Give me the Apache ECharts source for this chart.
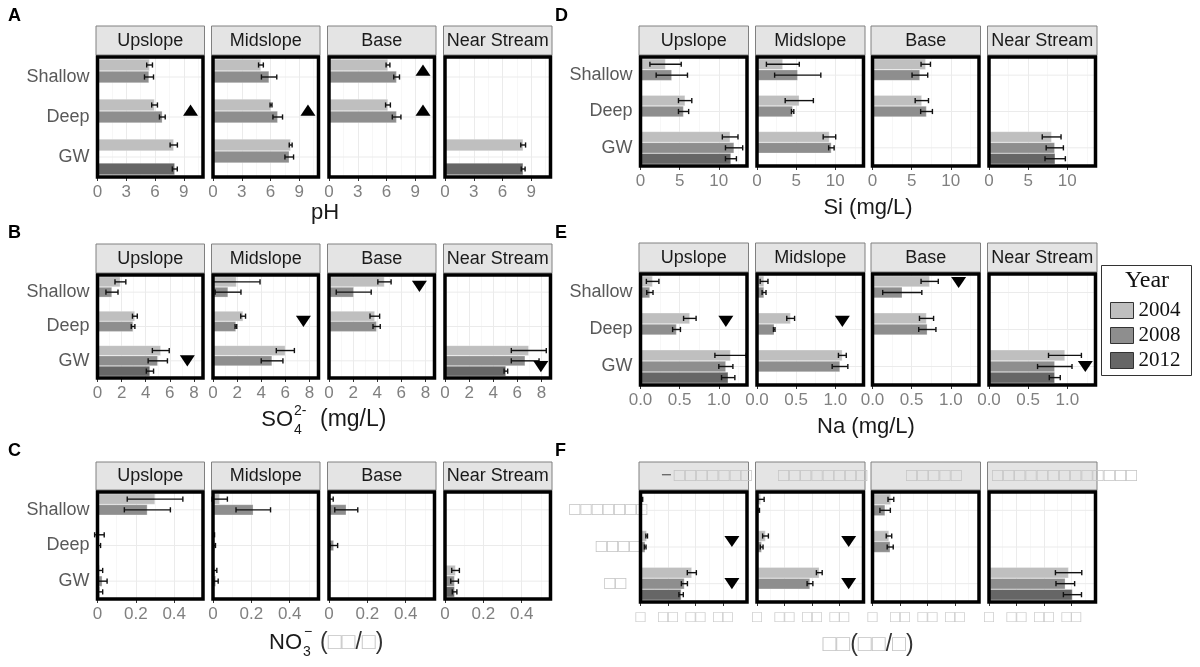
<!DOCTYPE html>
<html><head><meta charset="utf-8">
<script src="https://cdn.jsdelivr.net/npm/echarts@6/dist/echarts.min.js"></script>
<style>html,body{margin:0;padding:0;background:#fff}#c{width:1200px;height:667px}</style>
</head><body><div id="c"></div>
<script>
const N = null;
const FACETS = ['Upslope', 'Midslope', 'Base', 'Near Stream'];
const DEPTHS = ['Shallow', 'Deep', 'GW'];
const YEARS = ['2004', '2008', '2012'];

// values: [facet][depth][year]; marks: [facet, depth position, x, direction (1 up, -1 down)]
const pHMean = [
  [[5.43, 5.37, N], [5.95, 6.76, N], [7.95, N, 8.06]],
  [[5.0, 5.85, N], [6.05, 6.75, N], [8.1, 7.95, N]],
  [[6.15, 7.05, N], [6.15, 7.05, N], [N, N, N]],
  [[N, N, N], [N, N, N], [8.15, N, 8.15]]
];
const pHErr = [
  [[0.3, 0.47, N], [0.3, 0.3, N], [0.38, N, 0.26]],
  [[0.25, 0.8, N], [0.1, 0.5, N], [0.15, 0.45, N]],
  [[0.2, 0.3, N], [0.25, 0.45, N], [N, N, N]],
  [[N, N, N], [N, N, N], [0.25, N, 0.2]]
];
const pHMarks = [[0, 0.83, 9.7, 1], [1, 0.83, 9.9, 1], [2, -0.17, 9.8, 1], [2, 0.83, 9.8, 1]];
const pHTicks = [0, 3, 6, 9];

const so4Mean = [
  [[1.9, 1.2, N], [3.1, 2.95, N], [5.25, 5.0, 4.35]],
  [[1.95, 1.25, N], [2.5, 1.9, N], [6.0, 4.9, N]],
  [[4.6, 2.05, N], [3.8, 3.95, N], [N, N, N]],
  [[N, N, N], [N, N, N], [6.95, 6.65, 5.05]]
];
const so4Err = [
  [[0.45, 0.5, N], [0.2, 0.15, N], [0.7, 0.8, 0.3]],
  [[1.95, 1.07, N], [0.2, 0.07, N], [0.75, 0.9, N]],
  [[0.55, 1.45, N], [0.4, 0.3, N], [N, N, N]],
  [[N, N, N], [N, N, N], [1.45, 1.15, 0.15]]
];
const so4Marks = [[0, 2.0, 7.45, -1], [1, 0.85, 7.5, -1], [2, -0.17, 7.5, -1], [3, 2.17, 7.95, -1]];
const so4Ticks = [0, 2, 4, 6, 8];

const no3Mean = [
  [[0.30, 0.26, N], [0.01, 0.006, N], [0.012, 0.025, 0.012]],
  [[0.035, 0.21, N], [0.004, 0.008, N], [0.01, 0.015, N]],
  [[0.01, 0.09, N], [N, 0.025, N], [N, N, N]],
  [[N, N, N], [N, N, N], [0.055, 0.05, 0.05]]
];
const no3Err = [
  [[0.145, 0.12, N], [0.025, 0.01, N], [0.015, 0.025, 0.015]],
  [[0.04, 0.09, N], [0.004, 0.005, N], [0.01, 0.012, N]],
  [[0.012, 0.06, N], [N, 0.02, N], [N, N, N]],
  [[N, N, N], [N, N, N], [0.02, 0.02, 0.012]]
];
const no3Marks = [];
const no3Ticks = [0, 0.2, 0.4];

const siMean = [
  [[3.2, 4.0, N], [5.7, 5.5, N], [11.45, 11.95, 11.55]],
  [[3.3, 5.2, N], [5.4, 4.55, N], [9.25, 9.5, N]],
  [[6.8, 6.05, N], [6.3, 6.9, N], [N, N, N]],
  [[N, N, N], [N, N, N], [8.0, 8.4, 8.45]]
];
const siErr = [
  [[2.0, 2.0, N], [0.85, 0.65, N], [1.0, 1.1, 0.7]],
  [[2.1, 2.95, N], [1.8, 0.15, N], [0.8, 0.35, N]],
  [[0.6, 1.0, N], [0.85, 0.75, N], [N, N, N]],
  [[N, N, N], [N, N, N], [1.2, 1.1, 1.3]]
];
const siMarks = [];
const siTicks = [0, 5, 10];

const naMean = [
  [[0.155, 0.12, N], [0.63, 0.46, N], [1.15, 1.09, 1.12]],
  [[0.09, 0.09, N], [0.43, 0.22, N], [1.09, 1.06, N]],
  [[0.73, 0.38, N], [0.69, 0.7, N], [N, N, N]],
  [[N, N, N], [N, N, N], [0.97, 0.84, 0.84]]
];
const naErr = [
  [[0.08, 0.04, N], [0.08, 0.05, N], [0.2, 0.09, 0.085]],
  [[0.05, 0.025, N], [0.05, 0.01, N], [0.05, 0.1, N]],
  [[0.11, 0.25, N], [0.09, 0.11, N], [N, N, N]],
  [[N, N, N], [N, N, N], [0.21, 0.22, 0.07]]
];
const naMarks = [[0, 0.78, 1.09, -1], [1, 0.78, 1.09, -1], [2, -0.27, 1.1, -1], [3, 2.0, 1.23, -1]];
const naTicks = [0, 0.5, 1.0];

const fMean = [
  [[0.5, N, N], [2.25, 1.72, N], [18.7, 16.0, 14.8]],
  [[1.4, 0.6, N], [3.1, 1.7, N], [22.7, 19.3, N]],
  [[6.7, 4.6, N], [6.0, 6.45, N], [N, N, N]],
  [[N, N, N], [N, N, N], [29.0, 27.8, 30.4]]
];
const fErr = [
  [[0.3, N, N], [0.3, 0.3, N], [1.65, 1.1, 0.8]],
  [[1.2, 0.3, N], [1.05, 0.5, N], [1.05, 1.05, N]],
  [[1.05, 1.9, N], [1.0, 1.1, N], [N, N, N]],
  [[N, N, N], [N, N, N], [4.8, 3.4, 3.3]]
];
const fMarks = [[0, 0.85, 33.3, -1], [0, 2.0, 33.3, -1], [1, 0.85, 33.4, -1], [1, 2.0, 33.4, -1]];
const fTicks = [0, 10, 20, 30];
const fTickLabels = ['□', '□□', '□□', '□□'];
const fStripLabels = ['{d|−}{t|□□□□□□□}', '{t|□□□□□□□□}', '{t|□□□□□}', '{t|□□□□□□□□□□□□□}'];
const fDepthLabels = ['□□□□□□□', '{a|□□□□}', '{b|□□}'];

// ---------------- layout & style ----------------
const FONT = "'Liberation Sans', Arial, sans-serif";
const SERIF = "'Liberation Serif', 'Times New Roman', serif";
const COLORS = ['#bfbfbf', '#8e8e8e', '#666666'];
const TOFU = '#c4c4c4';
const COLX = [[97.5, 213, 329, 445], [640.5, 757, 872.5, 989]];
const COLW = [105.5, 106.5];
const FSTRIPX = [661, 778, 906, 992];

const panels = [
  { mean: pHMean, err: pHErr, marks: pHMarks, ticks: pHTicks, max: 11, col: 0, top: 57, h: 120, strip: 26 },
  { mean: so4Mean, err: so4Err, marks: so4Marks, ticks: so4Ticks, max: 8.75, col: 0, top: 275, h: 103, strip: 244 },
  { mean: no3Mean, err: no3Err, marks: no3Marks, ticks: no3Ticks, max: 0.55, col: 0, top: 492, h: 107, strip: 462 },
  { mean: siMean, err: siErr, marks: siMarks, ticks: siTicks, max: 13.6, col: 1, top: 57, h: 109, strip: 26 },
  { mean: naMean, err: naErr, marks: naMarks, ticks: naTicks, max: 1.36, col: 1, top: 274, h: 111, strip: 243, fmt: v => Number(v).toFixed(1) },
  { mean: fMean, err: fErr, marks: fMarks, ticks: fTicks, max: 38.8, col: 1, top: 492, h: 110, strip: 462, tofu: true }
];

function errRender(params, api) {
  const v = api.value(0), d = api.value(1), y = api.value(2), e = api.value(3);
  const band = api.size([0, 1])[1];
  const c = api.coord([v, d]);
  const yc = c[1] + (y - 1) * band * 0.3;
  const x1 = api.coord([v - e, d])[0], x2 = api.coord([v + e, d])[0];
  const cap = 2.6, st = { stroke: '#111', lineWidth: 1.4 };
  return { type: 'group', children: [
    { type: 'line', shape: { x1: x1, y1: yc, x2: x2, y2: yc }, style: st },
    { type: 'line', shape: { x1: x1, y1: yc - cap, x2: x1, y2: yc + cap }, style: st },
    { type: 'line', shape: { x1: x2, y1: yc - cap, x2: x2, y2: yc + cap }, style: st }
  ] };
}
function markRender(params, api) {
  const x = api.value(0), d = api.value(1), fr = api.value(2), dir = api.value(3);
  const band = api.size([0, 1])[1];
  const c = api.coord([x, d]);
  const cx = c[0], cy = c[1] + fr * band, hw = 7.5, hh = 5.6;
  const pts = dir > 0 ? [[cx - hw, cy + hh], [cx + hw, cy + hh], [cx, cy - hh]]
                      : [[cx - hw, cy - hh], [cx + hw, cy - hh], [cx, cy + hh]];
  return { type: 'polygon', shape: { points: pts }, style: { fill: '#000' } };
}

const grids = [], xAxes = [], yAxes = [], series = [], elements = [];

panels.forEach((p, pi) => {
  for (let f = 0; f < 4; f++) {
    const gi = grids.length;
    const left = COLX[p.col][f], w = COLW[p.col];
    grids.push({ left: left, top: p.top, width: w, height: p.h, containLabel: false, outerBoundsMode: 'none', show: false });
    xAxes.push({
      gridIndex: gi, type: 'value', min: 0, max: p.max, interval: p.ticks[1] - p.ticks[0],
      axisLine: { show: false },
      axisTick: { show: true, length: 4, lineStyle: { color: '#333', width: 1 }, customValues: p.ticks },
      axisLabel: {
        customValues: p.ticks, margin: 7, fontSize: p.tofu ? 16.5 : 17, fontFamily: FONT,
        color: p.tofu ? TOFU : '#808080',
        formatter: p.tofu ? (v => fTickLabels[fTicks.indexOf(Number(v))] || '') : (p.fmt || (v => String(v)))
      },
      splitLine: { show: true, lineStyle: { color: '#ebebeb', width: 1 } },
      minorTick: { show: false, splitNumber: 2 },
      minorSplitLine: { show: true, lineStyle: { color: '#f3f3f3', width: 0.7 } }
    });
    const yl = { show: f === 0, margin: 8, fontSize: 18, fontFamily: FONT, color: '#595959' };
    if (p.tofu) {
      yl.margin = -7; yl.color = TOFU; yl.fontSize = 18.5;
      yl.formatter = v => fDepthLabels[DEPTHS.indexOf(v)];
      yl.rich = {
        a: { padding: [0, 7, 0, 0], fontSize: 18.5, color: TOFU, fontFamily: FONT },
        b: { padding: [0, 21, 0, 0], fontSize: 18.5, color: TOFU, fontFamily: FONT }
      };
    }
    yAxes.push({
      gridIndex: gi, type: 'category', data: DEPTHS, inverse: true,
      axisLine: { show: false }, axisTick: { show: false }, splitLine: { show: false }, axisLabel: yl
    });
    const mx = p.max;
    series.push({
      type: 'custom', xAxisIndex: gi, yAxisIndex: gi, z: 1, silent: true, animation: false,
      data: DEPTHS.map((d, i) => [0, i]), encode: { x: 0, y: 1 },
      renderItem: (params, api) => {
        const i = api.value(1), a = api.coord([0, i]), b = api.coord([mx, i]);
        return { type: 'line', shape: { x1: a[0], y1: a[1], x2: b[0], y2: b[1] }, style: { stroke: '#ebebeb', lineWidth: 1 } };
      }
    });
    YEARS.forEach((yr, y) => {
      series.push({
        type: 'bar', name: yr, xAxisIndex: gi, yAxisIndex: gi, z: 2, silent: true, animation: false,
        data: p.mean[f].map(r => r[y]), barWidth: '30%', barGap: '0%',
        itemStyle: { color: COLORS[y], borderColor: 'rgba(255,255,255,0.55)', borderWidth: 0.5 }
      });
    });
    const ed = [];
    p.mean[f].forEach((r, d) => r.forEach((v, y) => { if (v != null) ed.push([v, d, y, p.err[f][d][y]]); }));
    series.push({ type: 'custom', xAxisIndex: gi, yAxisIndex: gi, z: 3, silent: true, animation: false,
      data: ed, encode: { x: 0, y: 1 }, renderItem: errRender });
    const md = p.marks.filter(m => m[0] === f).map(m => { const di = Math.round(m[1]); return [m[2], di, m[1] - di, m[3]]; });
    if (md.length) series.push({ type: 'custom', xAxisIndex: gi, yAxisIndex: gi, z: 4, silent: true, animation: false,
      data: md, encode: { x: 0, y: 1 }, renderItem: markRender });

    // strip
    const sh = p.top - 2 - p.strip;
    elements.push({ type: 'rect', z: 100, shape: { x: left - 1.5, y: p.strip, width: w + 3, height: sh },
      style: { fill: '#e4e4e4', stroke: '#808080', lineWidth: 1 } });
    if (p.tofu) {
      elements.push({ type: 'text', z: 101, x: FSTRIPX[f], y: p.strip + sh / 2,
        style: { text: fStripLabels[f], align: 'left', textAlign: 'left', verticalAlign: 'middle', textVerticalAlign: 'middle',
          fontSize: 18.5, fontFamily: FONT, fill: TOFU,
          rich: { t: { fontSize: 18.5, fontFamily: FONT, fill: TOFU, color: TOFU },
                  d: { fontSize: 18.5, fontFamily: FONT, fill: '#666', color: '#666', padding: [0, 2, 0, 0] } } } });
    } else {
      elements.push({ type: 'text', z: 101, x: left + w / 2, y: p.strip + sh / 2 + 0.5,
        style: { text: FACETS[f], align: 'center', textAlign: 'center', verticalAlign: 'middle', textVerticalAlign: 'middle',
          fontSize: 18, fontFamily: FONT, fill: '#1a1a1a' } });
    }
    // panel border
    elements.push({ type: 'rect', z: 102, shape: { x: left, y: p.top, width: w, height: p.h },
      style: { fill: 'transparent', stroke: '#000', lineWidth: 3.5 } });
  }
});

function txt(x, y, text, size, opts) {
  const o = Object.assign({ align: 'center', vAlign: 'middle', fill: '#1a1a1a', family: FONT, weight: 'normal' }, opts || {});
  const st = { text: text, align: o.align, textAlign: o.align, verticalAlign: o.vAlign, textVerticalAlign: o.vAlign,
    fontSize: size, fontFamily: o.family, fontWeight: o.weight, fill: o.fill };
  if (o.rich) st.rich = o.rich;
  elements.push({ type: 'text', z: 103, x: x, y: y, style: st });
}
// panel letters
[['A', 16], ['B', 233], ['C', 451]].forEach(a => txt(8, a[1], a[0], 18, { align: 'left', weight: 'bold', fill: '#000' }));
[['D', 16], ['E', 233], ['F', 451]].forEach(a => txt(555, a[1], a[0], 18, { align: 'left', weight: 'bold', fill: '#000' }));
// axis titles
txt(325, 213, 'pH', 22);
txt(293, 420, 'SO', 22, { align: 'right' });
txt(294, 430, '4', 14, { align: 'left' });
txt(294, 411, '2-', 14, { align: 'left' });
txt(320, 420, '(mg/L)', 23, { align: 'left' });
txt(302, 643, 'NO', 22, { align: 'right' });
txt(303, 652, '3', 14, { align: 'left' });
txt(304, 632, '−', 14, { align: 'left' });
const tofuRich = { p: { fontSize: 23, fontFamily: FONT, fill: '#333', color: '#333' }, t: { fontSize: 23, fontFamily: FONT, fill: TOFU, color: TOFU } };
txt(320, 643, '{p|(}{t|□□}{p|/}{t|□}{p|)}', 23, { align: 'left', rich: tofuRich });
txt(868, 208, 'Si (mg/L)', 22);
txt(866, 427, 'Na (mg/L)', 22);
txt(868, 645, '{t|□□}{p|(}{t|□□}{p|/}{t|□}{p|)}', 23, { rich: tofuRich });
// legend frame & title
elements.push({ type: 'rect', z: 100, shape: { x: 1101.5, y: 265.5, width: 90, height: 110 },
  style: { fill: '#fff', stroke: '#333', lineWidth: 1 } });
txt(1147, 281, 'Year', 24, { family: SERIF, fill: '#111' });

const chart = echarts.init(document.getElementById('c'), null, { renderer: 'canvas' });
chart.setOption({
  animation: false,
  backgroundColor: '#fff',
  textStyle: { fontFamily: FONT },
  grid: grids, xAxis: xAxes, yAxis: yAxes, series: series,
  legend: {
    data: YEARS, orient: 'vertical', left: 1110, top: 300, padding: 0, itemWidth: 23, itemHeight: 16, itemGap: 4,
    icon: 'rect', selectedMode: false, z: 110,
    itemStyle: { borderColor: '#333', borderWidth: 1 },
    textStyle: { fontFamily: SERIF, fontSize: 21, color: '#111' }
  },
  graphic: { elements: elements }
});
</script></body></html>
